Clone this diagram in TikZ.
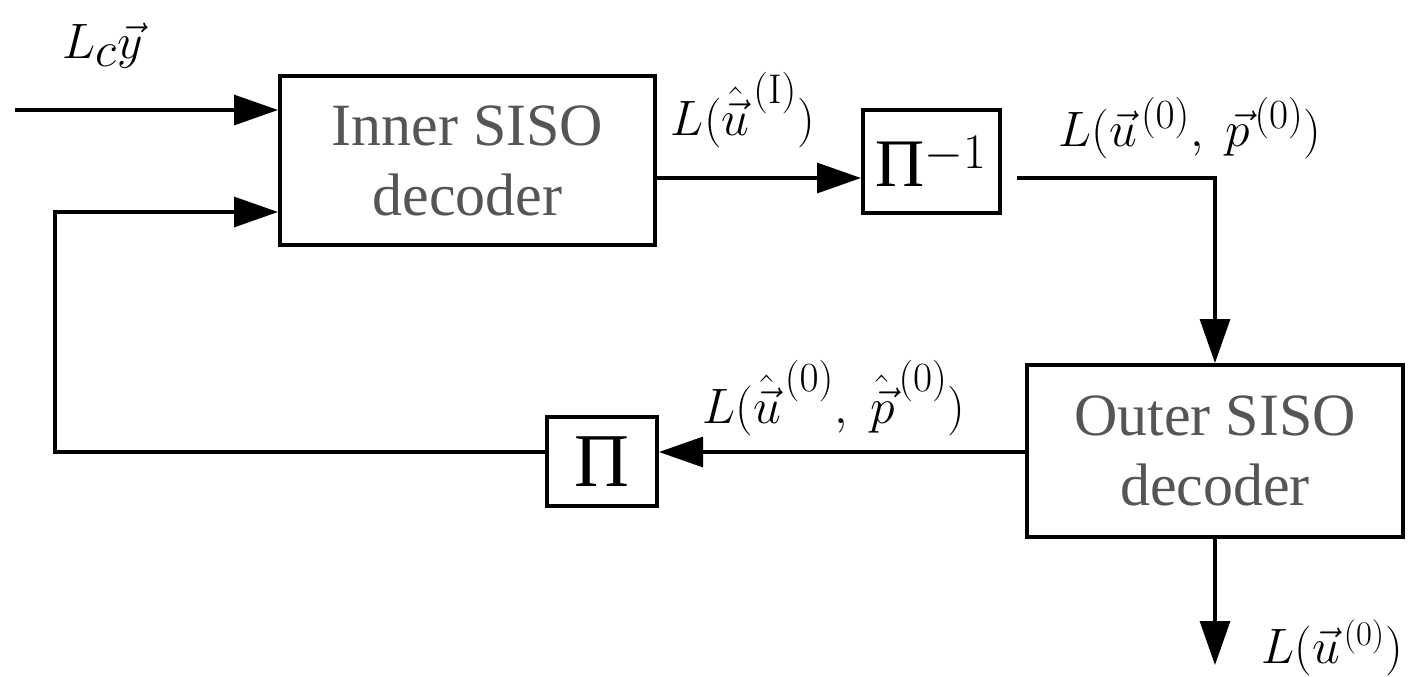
\documentclass[tikz,border=0pt]{standalone}
\usepackage[no-math]{fontspec}
\setmainfont{Liberation Serif}
\usetikzlibrary{arrows.meta,calc}
\definecolor{boxtext}{RGB}{85,85,85}

\begin{document}
\begin{tikzpicture}[x=0.5pt, y=-0.5pt, line join=miter,
  blk/.style={draw, line width=2pt, fill=white, inner sep=0pt, align=center},
  sig/.style={line width=1.6pt, -{Triangle[length=22pt,width=15pt]}},
  lbl/.style={inner sep=0pt, font=\fontsize{30}{34}\selectfont}]
\useasboundingbox (0,0) rectangle (1408,676);

% ============ BLOCKS ============
\node[blk, minimum width=187.5pt, minimum height=84.5pt, text=boxtext,
      font=\fontsize{30}{35}\selectfont] (Inner) at (467.5,160.5) {Inner SISO\\decoder};
\node[blk, minimum width=68.5pt, minimum height=51.5pt,
      font=\fontsize{34}{40}\selectfont] (Pinv) at (931.5,161.5) {Π$^{-1}$};
\node[blk, minimum width=188pt, minimum height=86pt, text=boxtext,
      font=\fontsize{30}{35}\selectfont] (Outer) at (1215,451) {Outer SISO\\decoder};
\node[blk, minimum width=55pt, minimum height=44.5pt,
      font=\fontsize{38}{42}\selectfont] (Pi) at (602,461.5) {Π};

% rows the connectors run along (they do not meet the blocks at mid height)
\coordinate (InRow) at (15,110);
\coordinate (FbIn) at (55,212);
\coordinate (FwRow) at (0,178);
\coordinate (FbRow) at (0,452);
\coordinate (Out) at (1215,665);

% ============ CONNECTORS ============
\draw[sig] (InRow) -- (Inner.west|-InRow);
\draw[sig] (Inner.east|-FwRow) -- (Pinv.west|-FwRow);
\draw[sig] ($(Pinv.east|-FwRow)+(15,0)$) -| (Outer.north);
\draw[sig] (Outer.west|-FbRow) -- (Pi.east|-FbRow);
\draw[sig] (Pi.west|-FbRow) -| (FbIn) -- (Inner.west|-FbIn);
\draw[sig] (Outer.south) -- (Out);

% ============ LABELS ============
\node[lbl, font=\fontsize{35}{38}\selectfont] (LcyLbl) at (103,46) {$L_c\vec{y}$};
\node[lbl, font=\fontsize{28}{32}\selectfont] (InnerOutLbl) at (743,110) {$L(\hat{\vec{u}}^{\kern2pt(\mathrm{I})})$};
\node[lbl] (OuterInLbl) at (1190,128) {$L(\vec{u}^{\kern2pt(0)},\;\vec{p}^{\kern2pt(0)})$};
\node[lbl] (OuterOutLbl) at (834,398) {$L(\hat{\vec{u}}^{\kern2pt(0)},\;\hat{\vec{p}}^{\kern2pt(0)})$};
\node[lbl, font=\fontsize{26}{30}\selectfont] (DecLbl) at (1332,648) {$L(\vec{u}^{\kern2pt(0)})$};
\end{tikzpicture}
\end{document}
